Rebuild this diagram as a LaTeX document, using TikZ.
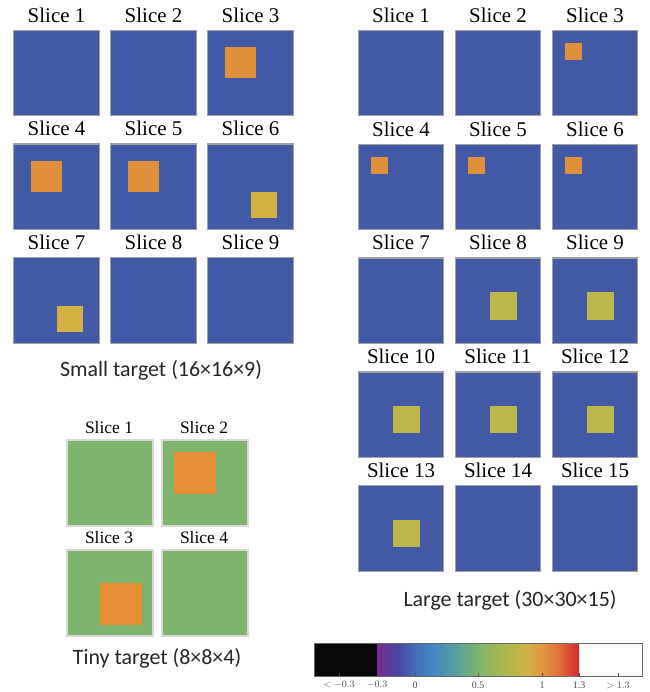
\documentclass[tikz,border=0pt]{standalone}
\usepackage{fontspec}
\setmainfont{Liberation Serif}
\newfontfamily\capfont{Carlito}

\definecolor{slab}{RGB}{66,89,166}
\definecolor{hotspot}{RGB}{224,144,58}
\definecolor{warm}{RGB}{211,177,66}
\definecolor{olive}{RGB}{188,182,75}
\definecolor{tissue}{RGB}{126,180,110}
\definecolor{tinyhot}{RGB}{230,143,53}
\definecolor{frame}{RGB}{160,160,160}
% colour bar stops
\definecolor{cb0}{RGB}{122,42,140}
\definecolor{cb1}{RGB}{74,68,158}
\definecolor{cb2}{RGB}{68,108,184}
\definecolor{cb3}{RGB}{64,134,196}
\definecolor{cb4}{RGB}{90,160,155}
\definecolor{cb5}{RGB}{125,180,110}
\definecolor{cb6}{RGB}{170,184,80}
\definecolor{cb7}{RGB}{206,180,70}
\definecolor{cb8}{RGB}{226,150,62}
\definecolor{cb9}{RGB}{224,118,60}
\definecolor{cb10}{RGB}{210,40,42}
\pgfdeclarehorizontalshading{cbar}{100bp}{color(0bp)=(cb0); color(25bp)=(cb0);
  color(29.95bp)=(cb1); color(34.4bp)=(cb2); color(38.6bp)=(cb3); color(44.8bp)=(cb4);
  color(50bp)=(cb5); color(56.2bp)=(cb6); color(62.1bp)=(cb7); color(65.8bp)=(cb8);
  color(69.6bp)=(cb9); color(75bp)=(cb10); color(100bp)=(cb10)}

\tikzset{
  slice/.style={rectangle,draw=frame,line width=1.2bp,fill=slab,inner sep=0pt,minimum size=85.5bp},
  tinyslice/.style={slice,fill=tissue,draw=black!15,line width=2bp,minimum size=86.5bp},
  blob/.style={rectangle,inner sep=0pt,draw=none},
  slicelab/.style={inner sep=0pt,font=\fontsize{21}{24}\selectfont},
  tinylab/.style={inner sep=0pt,font=\fontsize{17.5}{20}\selectfont},
  caption/.style={inner sep=0pt,font=\capfont\fontsize{22}{26}\selectfont,text=black!85},
  ticklab/.style={inner sep=0pt,font=\fontsize{10}{12}\selectfont,text=black!70}
}

\begin{document}
\begin{tikzpicture}[x=1bp,y=-1bp]
\useasboundingbox (0,0) rectangle (650,692);

% small target, 3 columns
\foreach \n in {1,...,9}{
  \pgfmathtruncatemacro\cc{mod(\n-1,3)}
  \pgfmathtruncatemacro\rr{div(\n-1,3)}
  \node[slice] (s\n) at (56.5+97*\cc,73+113.8*\rr) {};
  \node[slicelab] (s\n lab) at (56.5+97*\cc,15+113.8*\rr) {Slice \n};
}
\foreach \n in {3,4,5}
  \node[blob,fill=hotspot,minimum size=31bp] (s\n hot) at ([shift={(-10,-10)}]s\n.center) {};
\foreach \n in {6,7}
  \node[blob,fill=warm,minimum size=26bp] (s\n hot) at ([shift={(13,18)}]s\n.center) {};
\node[caption] (scap) at (161,370) {Small target (16×16×9)};

% large target
\foreach \n in {1,...,15}{
  \pgfmathtruncatemacro\cc{mod(\n-1,3)}
  \pgfmathtruncatemacro\rr{div(\n-1,3)}
  \node[slice] (l\n) at (401+97*\cc,73+113.9*\rr) {};
  \node[slicelab] (l\n lab) at (401+97*\cc,15+113.9*\rr) {Slice \n};
}
\foreach \n in {3,4,5,6}
  \node[blob,fill=hotspot,minimum size=17bp] (l\n hot) at ([shift={(-21.5,-21.5)}]l\n.center) {};
\foreach \n in {8,...,13}
  \node[blob,fill=olive,minimum size=27.5bp] (l\n hot) at ([shift={(5.5,5)}]l\n.center) {};
\node[caption] (lcap) at (510,600) {Large target (30×30×15)};

% tiny target
\foreach \n/\x/\y in {1/110/483,2/205/483,3/110/593,4/205/593}{
  \node[tinyslice] (t\n) at (\x,\y) {};
  \node[tinylab] (t\n lab) at (\x-1,\y-55) {Slice \n};
}
\node[blob,fill=tinyhot,minimum size=42bp] (t2hot) at ([shift={(-10.5,-10.5)}]t2.center) {};
\node[blob,fill=tinyhot,minimum size=42bp] (t3hot) at ([shift={(10.5,11)}]t3.center) {};
\node[caption] (tcap) at (157,658) {Tiny target (8×8×4)};

% colour bar
\fill[black!97] (314,643) rectangle (377,676);
\shade[shading=cbar] (377,643) rectangle (579,676);
\draw[black!60,line width=0.8bp] (314,643) rectangle (642,676);
\foreach \x/\t [count=\i] in {339/{$<-0.3$},377/{$-0.3$},415/0,478/0.5,542/1,579/1.3,618/{$>1.3$}}{
  \draw[black!70,line width=0.6bp] (\x,676) -- (\x,673);
  \node[ticklab] (tk\i) at (\x,685) {\t};
}
\end{tikzpicture}
\end{document}
